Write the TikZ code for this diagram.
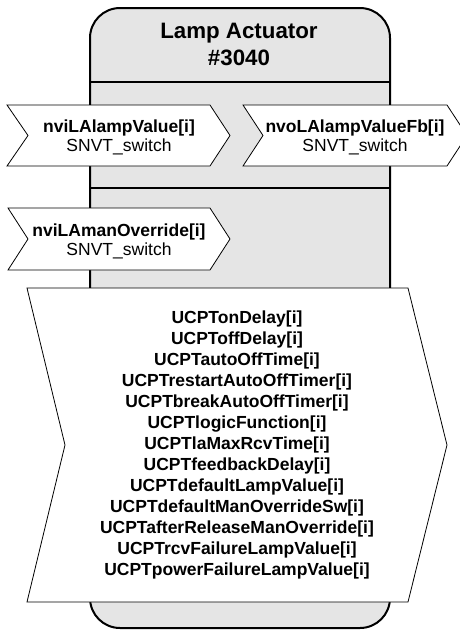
\documentclass[tikz,border=0pt]{standalone}
\usepackage{fontspec}
\setmainfont{Liberation Sans}
\usetikzlibrary{positioning}

\tikzset{
  fbody/.style={fill=black!10,line width=2pt},
  nvbox/.style={fill=white,line width=0.8pt},
  nvtext/.style={align=center,anchor=base,inner sep=0pt,font=\fontsize{17.5}{19}\selectfont},
  cptext/.style={align=center,anchor=base,inner sep=0pt,font=\fontsize{17.5}{21}\selectfont\bfseries},
}

\begin{document}
\begin{tikzpicture}[x=1pt,y=-1pt]
      \clip (0,0) rectangle (460,630);
      %% functional block
      \draw[fbody,rounded corners=30pt] (90,8) rectangle (390,628);
      \draw [line width=2pt] (90,82)-- (390,82);
      \draw [line width=2pt] (90,188)-- (390,188);
      %% network variables
      \filldraw[nvbox] (7,105) -- (210,105) -- (230,135.5) -- (210,166) -- (7,166) -- (28,135.5) -- cycle;
      \filldraw[nvbox] (243,105) -- (447,105) -- (467,135.5) -- (447,166) -- (243,166) -- (263,135.5) -- cycle;
      \filldraw[nvbox] (8,208) -- (210,208) -- (230,239) -- (210,270) -- (8,270) -- (28,239) -- cycle;
      %% configuration properties
      \filldraw[nvbox] (27,288) -- (408,288) -- (447,445) -- (408,602) -- (27,602) -- (65,445) -- cycle;
      %% base = baseline of the last line
      \node[align=center,anchor=base,inner sep=0pt,font=\fontsize{22.3}{27}\selectfont\bfseries] (title) at (239,65) {Lamp Actuator\\\#3040};
      \node[nvtext] (lampin) at (119,151) {\textbf{nviLAlampValue[i]}\\SNVT\_switch};
      \node[nvtext] (lampfb) at (355,151) {\textbf{nvoLAlampValueFb[i]}\\SNVT\_switch};
      \node[nvtext] (manin) at (119,255) {\textbf{nviLAmanOverride[i]}\\SNVT\_switch};
      \node[cptext] (cfg) at (237,575) {UCPTonDelay[i]\\UCPToffDelay[i]\\UCPTautoOffTime[i]\\UCPTrestartAutoOffTimer[i]\\UCPTbreakAutoOffTimer[i]\\UCPTlogicFunction[i]\\UCPTlaMaxRcvTime[i]\\UCPTfeedbackDelay[i]\\UCPTdefaultLampValue[i]\\UCPTdefaultManOverrideSw[i]\\UCPTafterReleaseManOverride[i]\\UCPTrcvFailureLampValue[i]\\UCPTpowerFailureLampValue[i]};
  \end{tikzpicture}
\end{document}
